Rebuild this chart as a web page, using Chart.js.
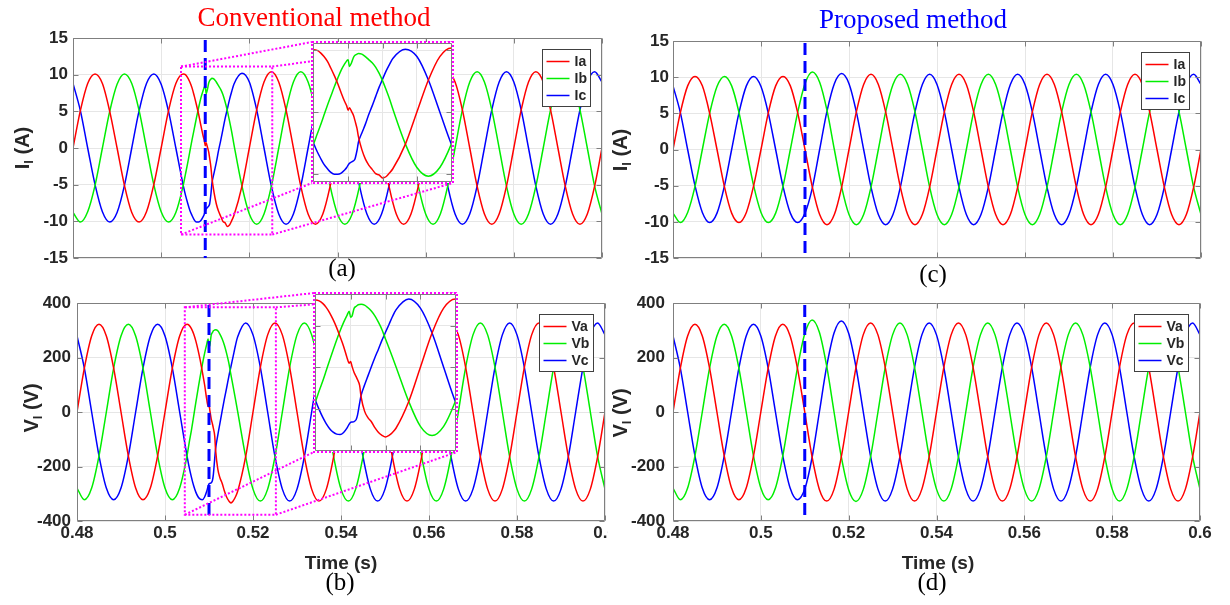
<!DOCTYPE html>
<html>
<head>
<meta charset="utf-8">
<title>Conventional vs proposed method</title>
<script src="https://cdn.jsdelivr.net/npm/chart.js@4.4.1/dist/chart.umd.min.js"></script>
<style>
body { margin: 0; background: #fff; }
#page { position: relative; width: 1230px; height: 605px; overflow: hidden; background: #fff; font-family: 'Liberation Sans', Arial, sans-serif; }
#page canvas { position: absolute; }
.txt { position: absolute; white-space: nowrap; text-align: center; }
.title { font-family: 'Liberation Serif', 'Times New Roman', serif; font-size: 27px; line-height: 27px; width: 300px; }
.tag { font-family: 'Liberation Serif', 'Times New Roman', serif; font-size: 25px; line-height: 30px; width: 60px; height: 30px; color: #000; }
.xname { font-weight: bold; font-size: 19px; line-height: 22px; width: 120px; color: #262626; }
.yname { font-weight: bold; font-size: 20px; line-height: 24px; width: 100px; height: 24px; color: #262626; transform: rotate(-90deg); }
.yname sub { font-size: 13px; vertical-align: -4px; line-height: 0; }
</style>
</head>
<body>
<div id="page">
  <canvas id="cA" width="612" height="290" style="left:0;top:0"></canvas>
  <canvas id="cB" width="608" height="315" style="left:0;top:290px"></canvas>
  <canvas id="cC" width="615" height="290" style="left:615px;top:0"></canvas>
  <canvas id="cD" width="615" height="315" style="left:615px;top:290px"></canvas>
  <canvas id="zA" width="147" height="147" style="left:309px;top:39px"></canvas>
  <canvas id="zB" width="149" height="165" style="left:311px;top:290px"></canvas>

  <div class="txt title" style="left:164px;top:4px;color:#ff0000">Conventional method</div>
  <div class="txt title" style="left:763px;top:6px;color:#0000ff">Proposed method</div>
  <div class="txt tag" style="left:312px;top:253px">(a)</div>
  <div class="txt tag" style="left:903px;top:259px">(c)</div>
  <div class="txt tag" style="left:310px;top:567px">(b)</div>
  <div class="txt tag" style="left:902px;top:567px">(d)</div>
  <div class="txt xname" style="left:281px;top:552px">Time (s)</div>
  <div class="txt xname" style="left:878px;top:552px">Time (s)</div>
  <div class="txt yname" style="left:-28px;top:136px">I<sub>l</sub> (A)</div>
  <div class="txt yname" style="left:570px;top:138px">I<sub>l</sub> (A)</div>
  <div class="txt yname" style="left:-19px;top:396px">V<sub>l</sub> (V)</div>
  <div class="txt yname" style="left:570px;top:401px">V<sub>l</sub> (V)</div>
</div>

<script>
// time samples (s): common start, the dense stretch round the disturbance, common end
const tStart = [0.48, 0.48167, 0.48333, 0.485, 0.48667, 0.48833, 0.49, 0.49167, 0.49333, 0.495, 0.49667, 0.49833, 0.5, 0.50167, 0.50333, 0.505];
const tPropMid = [0.50667, 0.50833, 0.51, 0.51167, 0.51333, 0.515, 0.51667, 0.51833, 0.52, 0.52167, 0.52333];
const tConvMid = [0.5055, 0.506, 0.5065, 0.507, 0.5075, 0.508, 0.5085, 0.509, 0.5095, 0.5098, 0.51, 0.5102, 0.5105, 0.5108, 0.511, 0.5113, 0.5115, 0.512, 0.5125, 0.513, 0.5135, 0.514, 0.5145, 0.515, 0.5155, 0.516, 0.5165, 0.51833, 0.52, 0.52167, 0.52333];
const tEnd = [0.525, 0.52667, 0.52833, 0.53, 0.53167, 0.53333, 0.535, 0.53667, 0.53833, 0.54, 0.54167, 0.54333,
  0.545, 0.54667, 0.54833, 0.55, 0.55167, 0.55333, 0.555, 0.55667, 0.55833, 0.56, 0.56167, 0.56333,
  0.565, 0.56667, 0.56833, 0.57, 0.57167, 0.57333, 0.575, 0.57667, 0.57833, 0.58, 0.58167, 0.58333,
  0.585, 0.58667, 0.58833, 0.59, 0.59167, 0.59333, 0.595, 0.59667, 0.59833, 0.6];

// load currents (A)
const iaStart = [0, 5.1, 8.8, 10.1, 8.8, 5.0, 0, -5.1, -8.8, -10.1, -8.7, -5.0, 0, 5.1, 8.8, 10.1];
const ibStart = [-8.8, -10.1, -8.7, -5.1, 0, 5.0, 8.7, 10.1, 8.8, 5.1, 0, -5.0, -8.7, -10.1, -8.8, -5.1];
const icStart = [8.8, 5.1, 0, -5.0, -8.7, -10.1, -8.8, -5.1, 0, 5.1, 8.8, 10.1, 8.7, 5.0, 0, -5.1];
const iaPropMid = [8.8, 5.1, 0, -5.2, -9.0, -10.4, -9.0, -5.2, 0, 5.2, 9.0];
const ibPropMid = [0, 5.1, 9.1, 10.7, 9.3, 5.4, 0, -5.2, -9.0, -10.4, -9.0];
const icPropMid = [-8.8, -10.1, -8.8, -5.3, 0, 5.3, 9.1, 10.5, 9.1, 5.2, 0];
const iaConvMid = [10.0, 9.6, 9.0, 8.2, 7.1, 5.9, 4.6, 3.1, 1.7, 1.0, 0.3, 0.7, 0.1, -0.6, -1.4, -2.7, -4.0, -6.1, -7.6, -8.6, -9.3, -10.0, -10.2, -10.7, -10.5, -9.9, -9.2, -5.2, 0, 5.2, 9.0];
const ibConvMid = [-3.6, -2.1, -0.5, 1.1, 2.6, 4.1, 5.5, 6.8, 7.8, 8.3, 8.5, 7.4, 8.0, 8.9, 9.2, 9.4, 9.5, 9.4, 9.0, 8.5, 8.0, 7.3, 6.3, 5.1, 3.7, 2.2, 0.5, -5.2, -9.0, -10.4, -9.0];
const icConvMid = [-6.4, -7.5, -8.5, -9.2, -9.8, -10.1, -10.1, -9.9, -9.4, -9.0, -8.6, -8.3, -8.1, -7.9, -7.6, -6.2, -4.9, -3.4, -2.0, -0.4, 1.0, 2.5, 4.0, 5.3, 6.6, 7.7, 8.7, 10.2, 9.0, 5.2, 0];
const iaEnd = [10.4, 9.0, 5.2, 0, -5.2, -9.0, -10.4, -9.0, -5.2, 0, 5.2, 9.0,
  10.4, 9.0, 5.2, 0, -5.2, -9.0, -10.4, -9.0, -5.2, 0, 5.2, 9.0,
  10.4, 9.0, 5.2, 0, -5.2, -9.0, -10.4, -9.0, -5.2, 0, 5.2, 9.0,
  10.4, 9.0, 5.2, 0, -5.2, -9.0, -10.4, -9.0, -5.2, 0];
const ibEnd = [-5.2, 0, 5.2, 9.0, 10.4, 9.0, 5.2, 0, -5.2, -9.0, -10.4, -9.0,
  -5.2, 0, 5.2, 9.0, 10.4, 9.0, 5.2, 0, -5.2, -9.0, -10.4, -9.0,
  -5.2, 0, 5.2, 9.0, 10.4, 9.0, 5.2, 0, -5.2, -9.0, -10.4, -9.0,
  -5.2, 0, 5.2, 9.0, 10.4, 9.0, 5.2, 0, -5.2, -9.0];
const icEnd = [-5.2, -9.0, -10.4, -9.0, -5.2, 0, 5.2, 9.0, 10.4, 9.0, 5.2, 0,
  -5.2, -9.0, -10.4, -9.0, -5.2, 0, 5.2, 9.0, 10.4, 9.0, 5.2, 0,
  -5.2, -9.0, -10.4, -9.0, -5.2, 0, 5.2, 9.0, 10.4, 9.0, 5.2, 0,
  -5.2, -9.0, -10.4, -9.0, -5.2, 0, 5.2, 9.0, 10.4, 9.0];

// load voltages (V)
const vaStart = [0, 161, 279, 322, 279, 161, 0, -161, -279, -322, -279, -161, 0, 161, 279, 322];
const vbStart = [-279, -322, -279, -161, 0, 161, 279, 322, 279, 161, 0, -161, -279, -322, -279, -161];
const vcStart = [279, 161, 0, -161, -279, -322, -279, -161, 0, 161, 279, 322, 279, 161, 0, -161];
const vaPropMid = [279, 161, 0, -165, -284, -327, -284, -164, 0, 164, 284];
const vbPropMid = [0, 161, 287, 338, 293, 168, 0, -165, -285, -328, -284];
const vcPropMid = [-279, -322, -283, -167, 0, 168, 290, 334, 289, 165, 0];
const vaConvMid = [318, 306, 287, 261, 228, 190, 146, 100, 45, 20, 28, 5, -25, -45, -60, -88, -140, -210, -242, -262, -290, -312, -326, -334, -326, -312, -292, -164, 0, 164, 283];
const vbConvMid = [-112, -67, -17, 34, 83, 131, 175, 215, 250, 268, 240, 245, 282, 292, 298, 301, 302, 298, 285, 268, 245, 215, 180, 135, 92, 48, 3, -164, -283, -327, -283];
const vcConvMid = [-203, -239, -270, -294, -311, -320, -322, -312, -290, -272, -264, -262, -260, -250, -228, -170, -135, -85, -40, 5, 48, 88, 130, 168, 205, 243, 275, 327, 283, 164, 0];
const vaEnd = [327, 283, 164, 0, -164, -283, -327, -283, -164, 0, 164, 283,
  327, 283, 164, 0, -164, -283, -327, -283, -164, 0, 164, 283,
  327, 283, 164, 0, -164, -283, -327, -283, -164, 0, 164, 283,
  327, 283, 164, 0, -164, -283, -327, -283, -164, 0];
const vbEnd = [-164, 0, 164, 283, 327, 283, 164, 0, -164, -283, -327, -283,
  -164, 0, 164, 283, 327, 283, 164, 0, -164, -283, -327, -283,
  -164, 0, 164, 283, 327, 283, 164, 0, -164, -283, -327, -283,
  -164, 0, 164, 283, 327, 283, 164, 0, -164, -283];
const vcEnd = [-164, -283, -327, -283, -164, 0, 164, 283, 327, 283, 164, 0,
  -164, -283, -327, -283, -164, 0, 164, 283, 327, 283, 164, 0,
  -164, -283, -327, -283, -164, 0, 164, 283, 327, 283, 164, 0,
  -164, -283, -327, -283, -164, 0, 164, 283, 327, 283];

const currentNames = ['Ia', 'Ib', 'Ic'];
const voltageNames = ['Va', 'Vb', 'Vc'];
const eventTime = 0.51;

// axes
const timeRange = [0.48, 0.6];
const currentRange = [-15, 15];
const voltageRange = [-400, 400];
const timeTicks = [0.48, 0.5, 0.52, 0.54, 0.56, 0.58, 0.6];
const currentTicks = [-15, -10, -5, 0, 5, 10, 15];
const voltageTicks = [-400, -200, 0, 200, 400];

// zoomed window (dotted box) and the inset axes
const zoomTime = [0.5045, 0.5252];
const zoomCurrent = [-11.8, 11.1];
const zoomVoltage = [-377, 384];
const insetTime = [0.5049, 0.5251];
const insetCurrent = [-11.35, 11.2];
const insetVoltage = [-401, 351];
const insetTimeTicks = [0.51, 0.515, 0.52];
const insetCurrentTicks = [-10, 0, 10];
const insetVoltageTicks = [-200, 0, 200];

const phaseColors = ['#ff0000', '#00ee00', '#0000ff'];
const axisColor = '#7f7f7f';
const gridColor = '#e6e6e6';
const textColor = '#262626';
const magenta = '#ff00ff';
const tickFont = {family: "'Liberation Sans', Arial, sans-serif", size: 17, weight: 'bold'};

const tConv = tStart.concat(tConvMid, tEnd);
const tProp = tStart.concat(tPropMid, tEnd);
const currentConv = [iaStart.concat(iaConvMid, iaEnd), ibStart.concat(ibConvMid, ibEnd), icStart.concat(icConvMid, icEnd)];
const currentProp = [iaStart.concat(iaPropMid, iaEnd), ibStart.concat(ibPropMid, ibEnd), icStart.concat(icPropMid, icEnd)];
const voltageConv = [vaStart.concat(vaConvMid, vaEnd), vbStart.concat(vbConvMid, vbEnd), vcStart.concat(vcConvMid, vcEnd)];
const voltageProp = [vaStart.concat(vaPropMid, vaEnd), vbStart.concat(vbPropMid, vbEnd), vcStart.concat(vcPropMid, vcEnd)];

const charts = {};
const extras = {
  cA: {event: true, legend: true, box: {t: zoomTime, y: zoomCurrent}, insetId: 'zA'},
  cB: {event: true, legend: true, box: {t: zoomTime, y: zoomVoltage}, insetId: 'zB'},
  cC: {event: true, legend: true},
  cD: {event: true, legend: true},
  zA: {inset: true},
  zB: {inset: true}
};

function makeSeries(times, values, names) {
  return values.map((v, i) => ({
    label: names[i],
    data: times.map((t, k) => ({x: t, y: v[k]})),
    borderColor: phaseColors[i],
    borderWidth: 1.5,
    pointRadius: 0,
    cubicInterpolationMode: 'monotone',
    fill: false
  }));
}

function axis(range, ticks, size, labels, pad) {
  return {
    type: 'linear',
    min: range[0],
    max: range[1],
    afterBuildTicks: s => { s.ticks = ticks.map(v => ({value: v})); },
    ticks: {display: labels, font: tickFont, color: textColor, padding: pad, autoSkip: false, maxRotation: 0, callback: v => String(v)},
    grid: {color: gridColor, drawTicks: false, lineWidth: 1},
    border: {display: false},
    afterFit: s => {
      if (s.isHorizontal()) s.height = size; else s.width = size;
      s.paddingLeft = 0; s.paddingRight = 0; s.paddingTop = 0; s.paddingBottom = 0;
    }
  };
}

// box round the plot area with inward tick marks (magenta frame for the insets)
const frame = {
  id: 'frame',
  beforeDraw(chart) {
    if (!extras[chart.canvas.id].inset) return;
    const {ctx, chartArea: a} = chart;
    ctx.save();
    ctx.fillStyle = '#fff';
    ctx.fillRect(a.left - 1, a.top - 1, a.width + 2, a.height + 2);
    ctx.restore();
  },
  afterDatasetsDraw(chart) {
    const ex = extras[chart.canvas.id];
    const {ctx, chartArea: a, scales: {x, y}} = chart;
    const L = Math.round(a.left) + 0.5, R = Math.round(a.right) - 0.5;
    const T = Math.round(a.top) + 0.5, B = Math.round(a.bottom) - 0.5;
    ctx.save();
    ctx.strokeStyle = axisColor;
    ctx.lineWidth = 1;
    ctx.beginPath();
    ctx.rect(L, T, R - L, B - T);
    x.ticks.forEach(t => {
      const p = Math.round(x.getPixelForValue(t.value)) + 0.5;
      ctx.moveTo(p, B); ctx.lineTo(p, B - 5);
      ctx.moveTo(p, T); ctx.lineTo(p, T + 5);
    });
    y.ticks.forEach(t => {
      const p = Math.round(y.getPixelForValue(t.value)) + 0.5;
      ctx.moveTo(L, p); ctx.lineTo(L + 5, p);
      ctx.moveTo(R, p); ctx.lineTo(R - 5, p);
    });
    ctx.stroke();
    if (ex.inset) {
      ctx.strokeStyle = magenta;
      ctx.lineWidth = 2;
      ctx.setLineDash([2, 2]);
      ctx.strokeRect(a.left - 1, a.top - 1, a.width + 2, a.height + 2);
    }
    ctx.restore();
  }
};

// dashed marker at the disturbance instant
const eventLine = {
  id: 'eventLine',
  afterDatasetsDraw(chart) {
    if (!extras[chart.canvas.id].event) return;
    const {ctx, chartArea: a, scales: {x}} = chart;
    const px = x.getPixelForValue(eventTime);
    ctx.save();
    ctx.strokeStyle = '#0000ff';
    ctx.lineWidth = 3;
    ctx.setLineDash([12, 6]);
    ctx.beginPath();
    ctx.moveTo(px, a.top + 2);
    ctx.lineTo(px, a.bottom);
    ctx.stroke();
    ctx.restore();
  }
};

// dotted window plus the lines that lead to the inset
const zoomBox = {
  id: 'zoomBox',
  afterDatasetsDraw(chart) {
    const ex = extras[chart.canvas.id];
    if (!ex.box) return;
    const {ctx, scales: {x, y}} = chart;
    const x0 = x.getPixelForValue(ex.box.t[0]), x1 = x.getPixelForValue(ex.box.t[1]);
    const y0 = y.getPixelForValue(ex.box.y[1]), y1 = y.getPixelForValue(ex.box.y[0]);
    ctx.save();
    ctx.strokeStyle = magenta;
    ctx.lineWidth = 2;
    ctx.setLineDash([2, 2]);
    ctx.strokeRect(x0, y0, x1 - x0, y1 - y0);
    const ins = charts[ex.insetId];
    if (ins) {
      const r1 = chart.canvas.getBoundingClientRect();
      const r2 = ins.canvas.getBoundingClientRect();
      const dx = r2.left - r1.left, dy = r2.top - r1.top;
      const a = ins.chartArea;
      const L = a.left + dx - 1, R = a.right + dx + 1, T = a.top + dy - 1, B = a.bottom + dy + 1;
      ctx.beginPath();
      ctx.moveTo(x0, y0); ctx.lineTo(L, T);
      ctx.moveTo(x1, y0); ctx.lineTo(R, T);
      ctx.moveTo(x0, y1); ctx.lineTo(L, B);
      ctx.moveTo(x1, y1); ctx.lineTo(R, B);
      ctx.stroke();
    }
    ctx.restore();
  }
};

// MATLAB-like legend box in the top right corner
const boxLegend = {
  id: 'boxLegend',
  afterDraw(chart) {
    if (!extras[chart.canvas.id].legend) return;
    const {ctx, chartArea: a} = chart;
    const sets = chart.data.datasets;
    ctx.save();
    ctx.font = "bold 14px 'Liberation Sans', Arial, sans-serif";
    const textW = Math.max(...sets.map(s => ctx.measureText(s.label).width));
    const w = Math.round(4 + 23 + 5 + textW + 4);
    const h = 12 + 17 * (sets.length - 1) + 11;
    const left = Math.round(a.right - 12 - w) + 0.5;
    const top = Math.round(a.top + 11) + 0.5;
    ctx.fillStyle = '#fff';
    ctx.fillRect(left, top, w, h);
    ctx.strokeStyle = '#404040';
    ctx.lineWidth = 1;
    ctx.strokeRect(left, top, w, h);
    sets.forEach((s, i) => {
      const cy = top + 12 + 17 * i;
      ctx.strokeStyle = s.borderColor;
      ctx.lineWidth = 1.5;
      ctx.beginPath();
      ctx.moveTo(left + 4, cy);
      ctx.lineTo(left + 27, cy);
      ctx.stroke();
      ctx.fillStyle = textColor;
      ctx.textBaseline = 'middle';
      ctx.textAlign = 'left';
      ctx.fillText(s.label, left + 32, cy + 1);
    });
    ctx.restore();
  }
};

function plot(id, times, values, names, cfg) {
  charts[id] = new Chart(document.getElementById(id), {
    type: 'line',
    data: {datasets: makeSeries(times, values, names)},
    options: {
      responsive: false,
      animation: false,
      events: [],
      layout: {padding: cfg.padding},
      plugins: {legend: {display: false}, tooltip: {enabled: false}},
      scales: {
        x: axis(cfg.xRange, cfg.xTicks, cfg.xSize, cfg.xLabels, 2),
        y: axis(cfg.yRange, cfg.yTicks, cfg.ySize, cfg.yLabels, cfg.yPad)
      }
    },
    plugins: [frame, eventLine, zoomBox, boxLegend]
  });
}

// insets first, so the main charts can aim their leader lines at them
plot('zA', tConv, currentConv, currentNames, {
  padding: {left: 4, right: 4, top: 4, bottom: 4},
  xRange: insetTime, xTicks: insetTimeTicks, xSize: 0, xLabels: false,
  yRange: insetCurrent, yTicks: insetCurrentTicks, ySize: 0, yLabels: false, yPad: 0
});
plot('zB', tConv, voltageConv, voltageNames, {
  padding: {left: 4, right: 4, top: 4, bottom: 4},
  xRange: insetTime, xTicks: insetTimeTicks, xSize: 0, xLabels: false,
  yRange: insetVoltage, yTicks: insetVoltageTicks, ySize: 0, yLabels: false, yPad: 0
});

plot('cA', tConv, currentConv, currentNames, {
  padding: {left: 0, right: 10, top: 38, bottom: 0},
  xRange: timeRange, xTicks: timeTicks, xSize: 32, xLabels: false,
  yRange: currentRange, yTicks: currentTicks, ySize: 73, yLabels: true, yPad: 5
});
plot('cB', tConv, voltageConv, voltageNames, {
  padding: {left: 0, right: 3, top: 13, bottom: 0},
  xRange: timeRange, xTicks: timeTicks, xSize: 84, xLabels: true,
  yRange: voltageRange, yTicks: voltageTicks, ySize: 77, yLabels: true, yPad: 6
});
plot('cC', tProp, currentProp, currentNames, {
  padding: {left: 0, right: 29, top: 41, bottom: 0},
  xRange: timeRange, xTicks: timeTicks, xSize: 32, xLabels: false,
  yRange: currentRange, yTicks: currentTicks, ySize: 58, yLabels: true, yPad: 4
});
plot('cD', tProp, voltageProp, voltageNames, {
  padding: {left: 0, right: 30, top: 13, bottom: 0},
  xRange: timeRange, xTicks: timeTicks, xSize: 84, xLabels: true,
  yRange: voltageRange, yTicks: voltageTicks, ySize: 58, yLabels: true, yPad: 8
});
</script>
</body>
</html>
